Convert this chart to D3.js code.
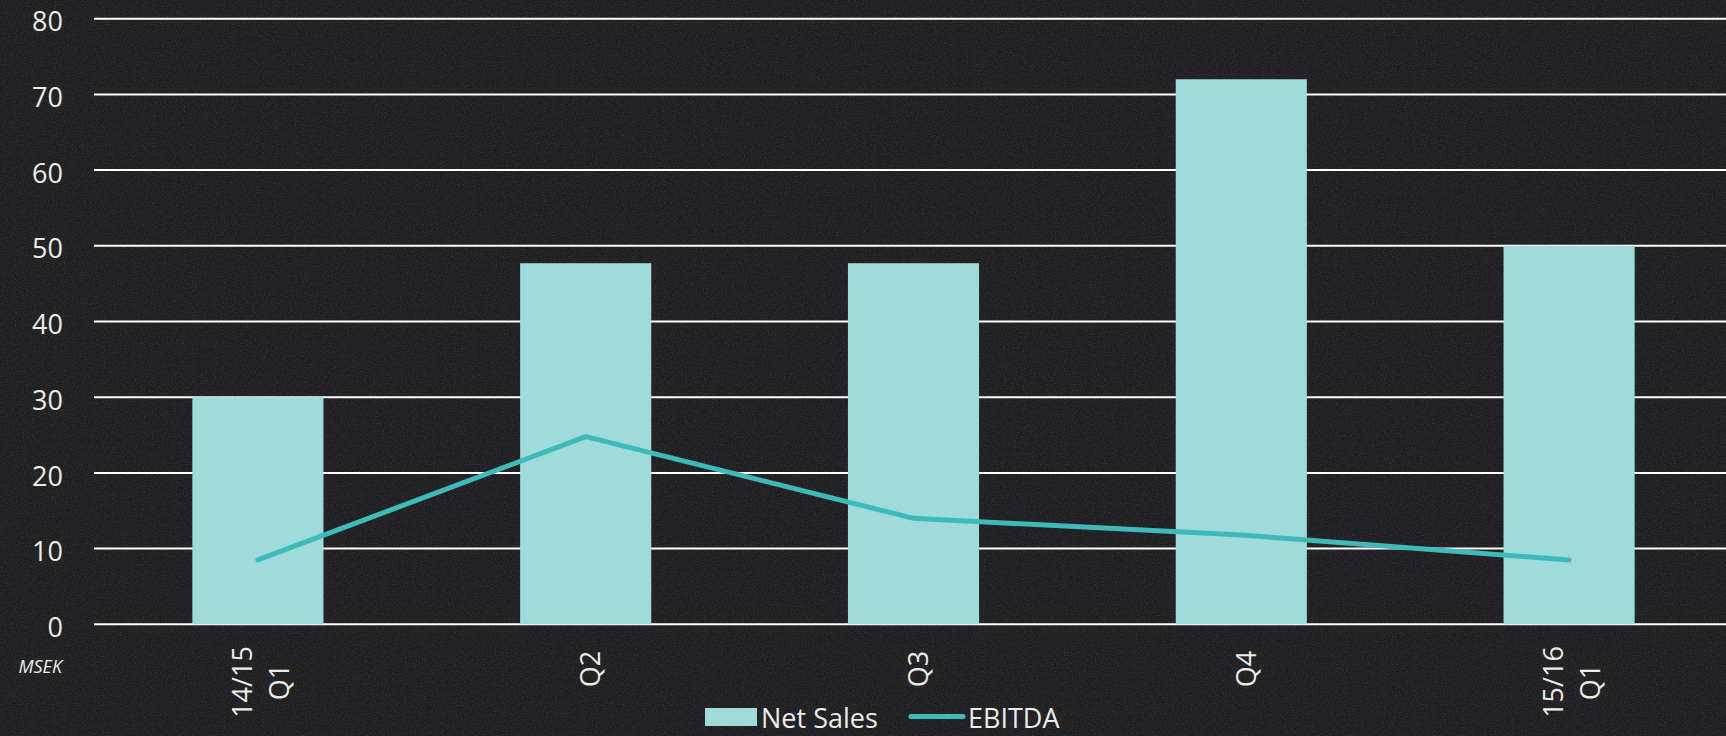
<!DOCTYPE html>
<html>
<head>
<meta charset="utf-8">
<script src="https://cdn.jsdelivr.net/npm/d3@7"></script>
<style>
  html, body { margin: 0; padding: 0; background: #1f1e21; }
  svg { display: block; }
  text { font-family: "Open Sans", sans-serif; fill: #ececec; }
</style>
</head>
<body>
<svg id="chart" width="1726" height="736"></svg>
<script>
// Quarterly figures, MSEK
const categories = [["14/15", "Q1"], ["Q2"], ["Q3"], ["Q4"], ["15/16", "Q1"]];
const netSales = [30, 47.7, 47.7, 72, 50];
const ebitda = [8.5, 24.8, 14, 11.8, 8.5];
const yTicks = [0, 10, 20, 30, 40, 50, 60, 70, 80];
const seriesNames = ["Net Sales", "EBITDA"];
const unitLabel = "MSEK";

const W = 1726, H = 736;
const svg = d3.select("#chart");

// chalkboard-style grain on the background
const defs = svg.append("defs");
const grain = defs.append("filter").attr("id", "grain")
  .attr("x", 0).attr("y", 0).attr("width", "100%").attr("height", "100%");
grain.append("feTurbulence").attr("type", "fractalNoise")
  .attr("baseFrequency", 0.9).attr("numOctaves", 2).attr("seed", 3).attr("result", "noise");
grain.append("feColorMatrix").attr("in", "noise").attr("type", "matrix")
  .attr("values", "0 0 0 0 1  0 0 0 0 1  0 0 0 0 1  0 0 0 -2.2 1.25");
svg.append("rect").attr("width", W).attr("height", H).attr("fill", "#1f1e21");
svg.append("rect").attr("width", W).attr("height", H).attr("filter", "url(#grain)").attr("opacity", 0.10);

const x = d3.scaleBand()
  .domain(d3.range(categories.length))
  .range([94, 1733])
  .paddingInner(0.6)
  .paddingOuter(0.3);

const y = d3.scaleLinear().domain([0, 80]).range([624.3, 18.7]);

// gridlines
svg.append("g").selectAll("line").data(yTicks).join("line")
  .attr("x1", 94).attr("x2", W)
  .attr("y1", d => y(d)).attr("y2", d => y(d))
  .attr("stroke", "#ffffff").attr("stroke-width", 2);

// y-axis tick labels
const yAxis = d3.axisLeft(y).tickValues(yTicks).tickSize(0).tickPadding(0);
const yg = svg.append("g").attr("transform", "translate(63,0)").call(yAxis);
yg.select(".domain").remove();
yg.selectAll("text")
  .attr("font-size", 27).attr("font-family", "'Open Sans', sans-serif")
  .attr("fill", "#ececec").attr("dy", "0.45em");

// Net Sales bars
svg.append("g").selectAll("rect").data(netSales).join("rect")
  .attr("x", (d, i) => x(i))
  .attr("width", x.bandwidth())
  .attr("y", d => y(d))
  .attr("height", d => y(0) - y(d))
  .attr("fill", "#9fdbdb");

// EBITDA line
const line = d3.line()
  .x((d, i) => x(i) + x.bandwidth() / 2)
  .y(d => y(d));
svg.append("path").datum(ebitda)
  .attr("d", line)
  .attr("fill", "none")
  .attr("stroke", "#3fbaba")
  .attr("stroke-width", 5)
  .attr("stroke-linecap", "round")
  .attr("stroke-linejoin", "miter");

// category labels, rotated
const lineGap = 37;
const catG = svg.append("g").selectAll("g").data(categories).join("g")
  .attr("transform", (d, i) => {
    const cx = x(i) + x.bandwidth() / 2 + (d.length > 1 ? 3 : 5);
    const cy = d.length > 1 ? 682 : 669;
    return `translate(${cx},${cy}) rotate(-90)`;
  });
catG.each(function(d) {
  const g = d3.select(this);
  d.forEach((t, k) => {
    const off = (k - (d.length - 1) / 2) * lineGap;
    g.append("text")
      .attr("x", 0).attr("y", off)
      .attr("dy", "0.36em")
      .attr("text-anchor", "middle")
      .attr("font-size", 27)
      .text(t);
  });
});

// unit label
svg.append("text")
  .attr("x", 62).attr("y", 673)
  .attr("text-anchor", "end")
  .attr("font-size", 18)
  .attr("font-style", "italic")
  .text(unitLabel);

// legend
const lg = svg.append("g");
lg.append("rect").attr("x", 705).attr("y", 708).attr("width", 52).attr("height", 18).attr("fill", "#9fdbdb");
lg.append("text").attr("x", 761).attr("y", 728).attr("font-size", 27).text(seriesNames[0]);
lg.append("line").attr("x1", 911).attr("x2", 963).attr("y1", 716.5).attr("y2", 716.5)
  .attr("stroke", "#3fbaba").attr("stroke-width", 5).attr("stroke-linecap", "round");
lg.append("text").attr("x", 968).attr("y", 728).attr("font-size", 27).text(seriesNames[1]);
</script>
</body>
</html>
